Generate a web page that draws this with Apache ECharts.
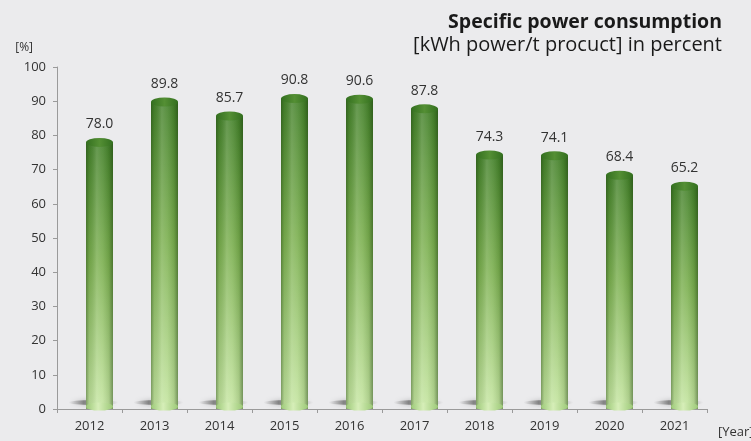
<!DOCTYPE html>
<html>
<head>
<meta charset="utf-8">
<script src="https://cdn.jsdelivr.net/npm/echarts@6/dist/echarts.min.js"></script>
<style>
  html, body { margin: 0; padding: 0; background: #ebebed; }
  #chart { width: 751px; height: 441px; }
</style>
</head>
<body>
<div id="chart"></div>
<script>
// Specific power consumption per year, in percent
const years = ['2012', '2013', '2014', '2015', '2016', '2017', '2018', '2019', '2020', '2021'];
const values = [78.0, 89.8, 85.7, 90.8, 90.6, 87.8, 74.3, 74.1, 68.4, 65.2];
const yTicks = { min: 0, max: 100, interval: 10 };

const BAR_W = 27;
const SHIFT = 10; // cylinders sit slightly right of the band centre (perspective)
const FONT = '"Open Sans", "Noto Sans", sans-serif';

const chart = echarts.init(document.getElementById('chart'));

// vertical shading: dark green at the top, pale green at the foot
const bodyFill = new echarts.graphic.LinearGradient(0, 0, 0, 1, [
  { offset: 0, color: '#45822b' },
  { offset: 0.45, color: '#7cb050' },
  { offset: 1, color: '#c6e6a2' }
]);
// horizontal shading to make the bar read as a cylinder
const roundFill = new echarts.graphic.LinearGradient(0, 0, 1, 0, [
  { offset: 0, color: 'rgba(20,50,10,0.40)' },
  { offset: 0.12, color: 'rgba(20,50,10,0.10)' },
  { offset: 0.4, color: 'rgba(255,255,255,0.18)' },
  { offset: 0.6, color: 'rgba(255,255,255,0.10)' },
  { offset: 0.85, color: 'rgba(20,50,10,0.12)' },
  { offset: 1, color: 'rgba(20,50,10,0.45)' }
]);
const capFill = new echarts.graphic.LinearGradient(0, 0, 1, 0, [
  { offset: 0, color: '#336f1f' },
  { offset: 0.5, color: '#548f34' },
  { offset: 1, color: '#336f1f' }
]);
const footFill = new echarts.graphic.LinearGradient(0, 0, 1, 0, [
  { offset: 0, color: '#9cc977' },
  { offset: 0.45, color: '#d6eeb8' },
  { offset: 1, color: '#9cc977' }
]);
// ground shadow: darkest just left of the cylinder, fading outwards
const shadowFill = new echarts.graphic.LinearGradient(0, 0, 1, 0, [
  { offset: 0, color: 'rgba(90,90,90,0.0)' },
  { offset: 0.3, color: 'rgba(70,70,70,0.55)' },
  { offset: 0.7, color: 'rgba(90,90,90,0.35)' },
  { offset: 1, color: 'rgba(90,90,90,0.0)' }
]);

chart.setOption({
  backgroundColor: '#ebebed',
  animation: false,
  title: [
    {
      text: 'Specific power consumption',
      right: 24, top: 7,
      textStyle: { fontFamily: FONT, fontSize: 19.5, fontWeight: 'bold', color: '#1a1a1a' }
    },
    {
      text: '[kWh power/t procuct] in percent',
      right: 24, top: 30,
      textStyle: { fontFamily: FONT, fontSize: 20, fontWeight: 'normal', color: '#1a1a1a' }
    }
  ],
  grid: { left: 57, right: 44, top: 67, bottom: 32, outerBoundsMode: 'none' },
  xAxis: {
    type: 'category',
    data: years,
    name: '[Year]',
    nameLocation: 'end',
    nameGap: 11,
    nameTextStyle: { fontFamily: FONT, fontSize: 13, color: '#333', verticalAlign: 'top', padding: [17, 0, 0, 0] },
    axisLine: { lineStyle: { color: '#9a9a9a' } },
    axisTick: { show: true, length: 4, lineStyle: { color: '#9a9a9a' } },
    axisLabel: { fontFamily: FONT, fontSize: 13, color: '#333', margin: 11 }
  },
  yAxis: {
    type: 'value',
    min: yTicks.min, max: yTicks.max, interval: yTicks.interval,
    name: '[%]',
    nameLocation: 'end',
    nameGap: 13,
    nameTextStyle: { fontFamily: FONT, fontSize: 12, color: '#333', align: 'right', padding: [0, 24, 0, 0] },
    axisLine: { show: true, lineStyle: { color: '#9a9a9a' } },
    axisTick: { show: true, length: 4, lineStyle: { color: '#9a9a9a' } },
    splitLine: { show: false },
    axisLabel: { fontFamily: FONT, fontSize: 13, color: '#333', margin: 11 }
  },
  series: [
    // soft ground shadow under each cylinder
    {
      type: 'pictorialBar',
      data: values,
      symbol: 'circle',
      symbolSize: [50, 5],
      symbolPosition: 'start',
      symbolOffset: [4, -4],
      itemStyle: { color: shadowFill, shadowBlur: 5, shadowColor: 'rgba(60,60,60,0.5)' },
      z: 1,
      silent: true
    },
    // cylinder body
    {
      type: 'pictorialBar',
      data: values,
      symbol: 'rect',
      symbolSize: [BAR_W, '100%'],
      symbolOffset: [SHIFT, 0],
      itemStyle: { color: bodyFill },
      z: 2
    },
    // rounded shading over the body
    {
      type: 'pictorialBar',
      data: values,
      symbol: 'rect',
      symbolSize: [BAR_W, '100%'],
      symbolOffset: [SHIFT, 0],
      itemStyle: { color: roundFill },
      z: 3,
      label: {
        show: true,
        position: 'top',
        distance: 11,
        offset: [SHIFT, 0],
        formatter: p => p.value.toFixed(1),
        fontFamily: FONT, fontSize: 14, color: '#333'
      }
    },
    // rounded foot
    {
      type: 'pictorialBar',
      data: values,
      symbol: 'circle',
      symbolSize: [BAR_W, 8],
      symbolPosition: 'start',
      symbolOffset: [SHIFT, '20%'],
      itemStyle: { color: footFill },
      z: 3
    },
    // elliptical top
    {
      type: 'pictorialBar',
      data: values,
      symbol: 'circle',
      symbolSize: [BAR_W, 9],
      symbolPosition: 'end',
      symbolOffset: [SHIFT, '-50%'],
      itemStyle: { color: capFill, borderColor: '#5c9a3e', borderWidth: 0.5 },
      z: 4
    }
  ]
});
</script>
</body>
</html>
